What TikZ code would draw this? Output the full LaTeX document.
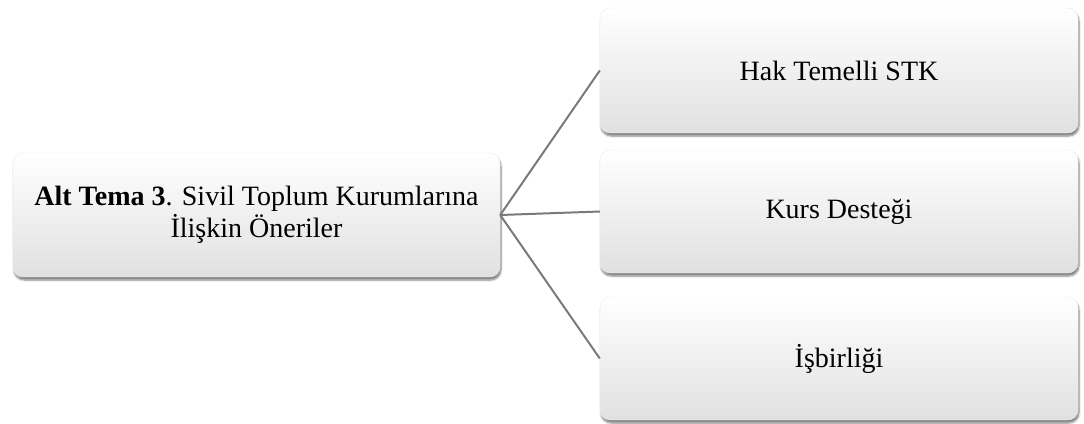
\documentclass[tikz,border=0pt]{standalone}
\usepackage{fontspec}
\setmainfont{Liberation Serif}
\usetikzlibrary{shadows.blur}
\begin{document}
\begin{tikzpicture}[x=1pt,y=1pt,
  box/.style={rectangle, rounded corners=10pt, draw=black!8, line width=0.4pt,
    top color=white, middle color=white, bottom color=black!12,
    blur shadow={shadow xshift=1pt, shadow yshift=-3pt, shadow blur steps=6, shadow opacity=50},
    align=center, font=\fontsize{28}{32}\selectfont, inner sep=0pt},
  link/.style={draw=black!52, line width=2pt}]
\useasboundingbox (0,0) rectangle (1084,-423);
\node[box, minimum width=487, minimum height=124] (main) at (256.5,-215)
  {\textbf{Alt Tema 3}. Sivil Toplum Kurumlarına\\İlişkin Öneriler};
\node[box, minimum width=478, minimum height=125] (b1) at (839,-70.5) {Hak Temelli STK};
\node[box, minimum width=478, minimum height=123] (b2) at (839,-211.5) {Kurs Desteği};
\node[box, minimum width=478, minimum height=123] (b3) at (839,-358.5) {İşbirliği};
\draw[link] (main.east) -- (b1.west);
\draw[link] (main.east) -- (b2.west);
\draw[link] (main.east) -- (b3.west);
\end{tikzpicture}
\end{document}
